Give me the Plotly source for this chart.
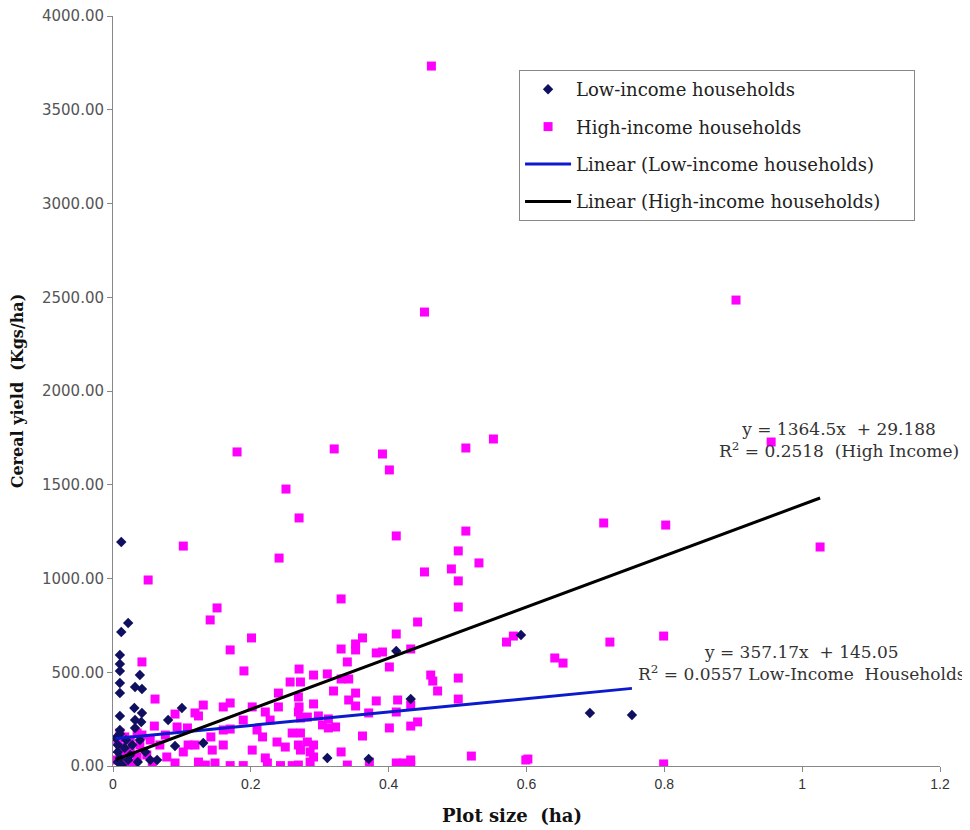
import numpy as np
import plotly.graph_objects as go

# ---- data ----
high_x = [0.462, 0.452, 0.904, 0.955, 1.026, 0.712, 0.802, 0.180, 0.321, 0.391, 0.401, 0.512, 0.552, 0.251, 0.270,
          0.102, 0.241, 0.411, 0.512, 0.501, 0.531, 0.452, 0.491, 0.501, 0.051, 0.331, 0.501, 0.151, 0.141, 0.442,
          0.201, 0.411, 0.362, 0.352, 0.331, 0.170, 0.432, 0.571, 0.581, 0.721, 0.799, 0.641, 0.653, 0.602, 0.799,
          0.352, 0.382, 0.391, 0.340, 0.401, 0.270, 0.291, 0.311, 0.331, 0.342, 0.461, 0.464, 0.471, 0.501, 0.320,
          0.352, 0.342, 0.352, 0.382, 0.413, 0.432, 0.501, 0.291, 0.270, 0.371, 0.411, 0.272, 0.282, 0.298, 0.3125,
          0.304, 0.3125, 0.323, 0.401, 0.432, 0.442, 0.362, 0.272, 0.282, 0.291, 0.286, 0.272, 0.291, 0.286, 0.331,
          0.340, 0.372, 0.411, 0.4215, 0.432, 0.432, 0.520, 0.599,
          0.042, 0.190, 0.061, 0.131, 0.170, 0.119, 0.124, 0.090, 0.160, 0.060, 0.093, 0.108, 0.142, 0.160, 0.170,
          0.109, 0.119, 0.102, 0.078, 0.090, 0.144, 0.134, 0.148, 0.170, 0.202, 0.221, 0.202, 0.189, 0.221, 0.228,
          0.240, 0.240, 0.257, 0.272, 0.269, 0.269, 0.209, 0.217, 0.238, 0.250, 0.260, 0.269, 0.243, 0.260, 0.269,
          0.189, 0.224, 0.160, 0.124,
          0.010, 0.017, 0.025, 0.035, 0.010, 0.017, 0.035, 0.017, 0.029, 0.010, 0.042, 0.039, 0.004, 0.007, 0.025,
          0.054, 0.068, 0.049, 0.057, 0.076]
high_y = [3733, 2421, 2485, 1728, 1168, 1296, 1285, 1675, 1691, 1664, 1579, 1696, 1744, 1477, 1323,
          1173, 1109, 1227, 1253, 1147, 1083, 1035, 1051, 987, 992, 891, 848, 843, 779, 768,
          683, 704, 683, 651, 624, 619, 624, 661, 693, 661, 693, 576, 549, 37, 11,
          619, 603, 608, 555, 528, 517, 485, 491, 464, 464, 485, 453, 400, 469, 400,
          389, 352, 320, 347, 352, 325, 357, 331, 315, 283, 288, 256, 261, 267, 251,
          219, 203, 208, 203, 213, 235, 160, 176, 128, 112, 75, 85, 48, 21, 75,
          5, 21, 16, 16, 32, 3, 53, 32,
          555, 507, 357, 325, 336, 283, 267, 277, 315, 213, 208, 203, 155, 192, 197,
          112, 112, 75, 48, 16, 85, 5, 16, 2, 85, 43, 315, 245, 288, 245,
          389, 315, 448, 448, 368, 288, 192, 155, 128, 101, 176, 112, 2, 2, 5,
          2, 16, 112, 21,
          176, 155, 139, 176, 101, 69, 48, 16, 16, 48, 165, 112, 32, 139, 85,
          139, 112, 59, 21, 165]

low_x = [0.012, 0.012, 0.022, 0.010, 0.010, 0.010, 0.010, 0.010, 0.010, 0.010, 0.010, 0.039, 0.032, 0.042, 0.031,
         0.042, 0.032, 0.041, 0.032, 0.100, 0.080, 0.090, 0.131, 0.064, 0.411, 0.432, 0.311, 0.371, 0.592, 0.692,
         0.753,
         0.007, 0.007, 0.010, 0.007, 0.017, 0.025, 0.019, 0.028, 0.047, 0.054, 0.004, 0.036, 0.013, 0.022, 0.039]
low_y = [1195, 715, 763, 592, 544, 507, 443, 389, 267, 192, 171, 485, 421, 411, 309,
         283, 245, 235, 203, 309, 245, 107, 123, 32, 613, 357, 43, 37, 699, 283,
         272,
         112, 75, 43, 21, 96, 59, 139, 112, 75, 32, 149, 21, 5, 32, 139]

# trend-line equations printed on the chart
high_slope, high_intercept = 1364.5, 29.188
low_slope, low_intercept = 357.17, 145.05
high_trend_x = [0.004, 1.026]
low_trend_x = [0.004, 0.753]

x_ticks = [0, 0.2, 0.4, 0.6, 0.8, 1.0, 1.2]
x_tick_labels = ["0", "0.2", "0.4", "0.6", "0.8", "1", "1.2"]
y_ticks = [0, 500, 1000, 1500, 2000, 2500, 3000, 3500, 4000]

high_trend_y = list(high_slope * np.array(high_trend_x) + high_intercept)
low_trend_y = list(low_slope * np.array(low_trend_x) + low_intercept)

SERIF = "DejaVu Serif, Liberation Serif, serif"
PAD = "\u00a0" * 5  # right-hand padding inside the legend box

fig = go.Figure()
fig.add_trace(go.Scatter(
    x=high_x, y=high_y, mode="markers", name="High-income households",
    marker=dict(symbol="square", size=9, color="#FF00FF"), legendgroup="b", legendrank=2))
fig.add_trace(go.Scatter(
    x=low_x, y=low_y, mode="markers", name="Low-income households",
    marker=dict(symbol="diamond", size=8, color="#101060"), legendgroup="a", legendrank=1))
fig.add_trace(go.Scatter(
    x=low_trend_x, y=low_trend_y, mode="lines", name="Linear (Low-income households)",
    line=dict(color="#0A1ACC", width=3), legendgroup="c", legendrank=3))
fig.add_trace(go.Scatter(
    x=high_trend_x, y=high_trend_y, mode="lines", name="Linear (High-income households)" + PAD,
    line=dict(color="#000000", width=3), legendgroup="d", legendrank=4))

fig.add_annotation(
    x=1.054, y=1740, xref="x", yref="y", showarrow=False, align="center",
    text="y = 1364.5x  + 29.188<br>R<sup>2</sup> = 0.2518  (High Income)",
    font=dict(family=SERIF, size=17, color="#333333"))
fig.add_annotation(
    x=1.0, y=550, xref="x", yref="y", showarrow=False, align="center",
    text="y = 357.17x  + 145.05<br>R<sup>2</sup> = 0.0557 Low-Income  Households",
    font=dict(family=SERIF, size=17, color="#333333"))
# x-axis title (sits slightly left of the plot centre in the reference)
fig.add_annotation(
    x=0.482, y=-0.066, xref="paper", yref="paper", showarrow=False,
    xanchor="center", yanchor="middle",
    text="<b>Plot size  (ha)</b>",
    font=dict(family=SERIF, size=18, color="#111111"))

# page body adds an 8px offset, so the figure is sized to fit the window
fig.update_layout(
    width=962, height=822,
    margin=dict(l=105, r=30, t=8, b=64),
    paper_bgcolor="white", plot_bgcolor="white",
    showlegend=True,
    legend=dict(
        x=0.491, y=0.928, xanchor="left", yanchor="top",
        bordercolor="#888888", borderwidth=1, bgcolor="white",
        font=dict(family=SERIF, size=18, color="#222222"),
        traceorder="grouped", tracegroupgap=11, itemwidth=46),
)
fig.update_xaxes(
    range=[0, 1.2], tickvals=x_ticks, ticktext=x_tick_labels, automargin=False,
    showgrid=False, zeroline=False, showline=True, linecolor="#888888", linewidth=1,
    ticks="outside", ticklen=5, tickcolor="#888888",
    tickfont=dict(family="Liberation Sans Narrow, Liberation Sans, sans-serif", size=14, color="#333333"))
fig.update_yaxes(
    range=[0, 4000], tickvals=y_ticks, tickformat=".2f", automargin=False,
    showgrid=False, zeroline=False, showline=True, linecolor="#888888", linewidth=1,
    ticks="outside", ticklen=5, tickcolor="#888888", ticklabeloverflow="allow",
    tickfont=dict(family="DejaVu Sans, Liberation Sans, sans-serif", size=15, color="#555555"),
    title=dict(text="<b>Cereal yield  (Kgs/ha)</b>", font=dict(family=SERIF, size=16, color="#111111"), standoff=14))

fig.write_html("out.html")
